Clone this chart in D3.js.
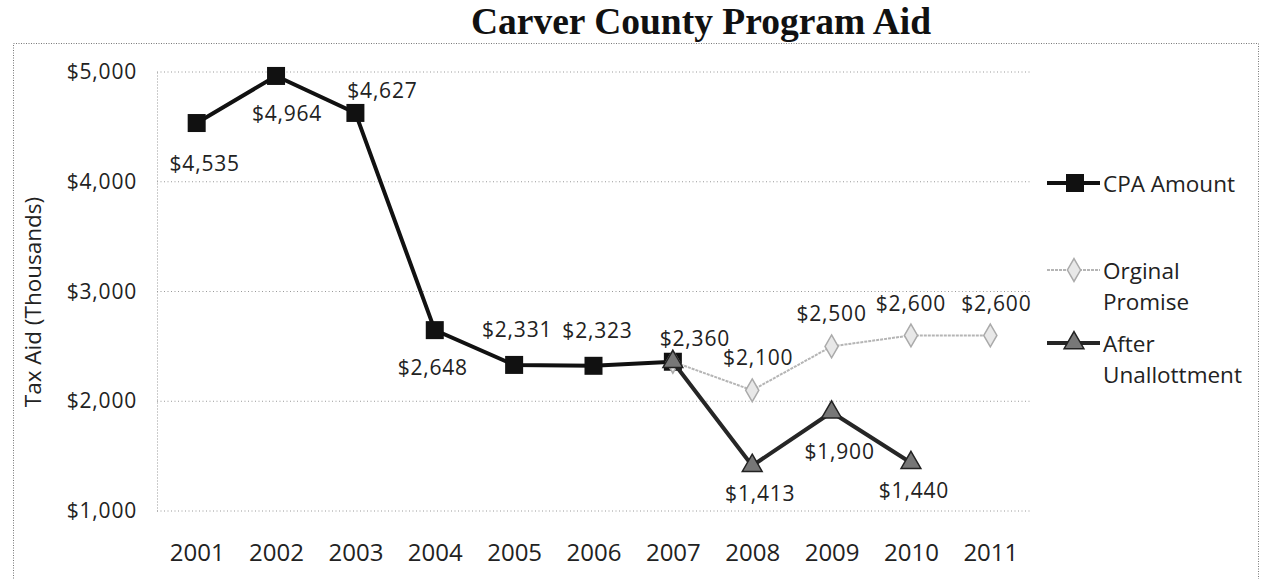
<!DOCTYPE html>
<html>
<head>
<meta charset="utf-8">
<script src="https://cdn.jsdelivr.net/npm/d3@7"></script>
<style>
  body { margin: 0; background: #fff; }
  svg text { font-family: "Open Sans", sans-serif; fill: #222; }
</style>
</head>
<body>
<script>
// data
const years = ["2001", "2002", "2003", "2004", "2005", "2006", "2007", "2008", "2009", "2010", "2011"];
const cpaYears = ["2001", "2002", "2003", "2004", "2005", "2006", "2007"];
const cpaValues = [4535, 4964, 4627, 2648, 2331, 2323, 2360];
const promiseYears = ["2007", "2008", "2009", "2010", "2011"];
const promiseValues = [2360, 2100, 2500, 2600, 2600];
const afterYears = ["2007", "2008", "2009", "2010"];
const afterValues = [2360, 1413, 1900, 1440];
const yTicks = [1000, 2000, 3000, 4000, 5000];

// where each value label sits relative to its point (null = no label)
const cpaLabelPos = [[8, 40], [11, 37], [27, -23], [-2, 37], [3, -36], [4, -36], [22, -24]];
const promiseLabelPos = [null, [6, -33], [0, -33], [0, -32], [6, -32]];
const afterLabelPos = [null, [8, 27], [8, 39], [3, 27]];

const w = 1266;
const h = 579;
const labelFont = "21px";

let svg = d3.select("body")
  .append("svg")
  .attr("width", w)
  .attr("height", h);

// frame
svg.append("rect")
  .attr("x", 13.5).attr("y", 43.5)
  .attr("width", 1245).attr("height", 545)
  .attr("fill", "none")
  .attr("stroke", "#777")
  .attr("stroke-dasharray", "1,1.5");

// title
svg.append("text")
  .attr("x", 701).attr("y", 34)
  .attr("text-anchor", "middle")
  .style("font-family", "'Liberation Serif', 'Times New Roman', serif")
  .style("font-weight", "bold")
  .style("font-size", "37.5px")
  .style("fill", "#111")
  .text("Carver County Program Aid");

let x = d3.scalePoint().domain(years).range([157, 1030]).padding(0.5);
let y = d3.scaleLinear().domain([1000, 5000]).range([511, 72]);

// gridlines + y labels
let yAxis = d3.axisLeft(y).tickValues(yTicks).tickSize(0).tickPadding(20)
  .tickFormat((d) => "$" + d3.format(",")(d));
svg.append("g")
  .attr("class", "y-axis")
  .attr("transform", "translate(157,0)")
  .call(yAxis);
svg.select(".y-axis .domain").attr("stroke", "#999").attr("stroke-dasharray", "1,2");
svg.selectAll(".y-axis text")
  .style("font-size", labelFont)
  .style("letter-spacing", "0.8px")
  .style("font-family", "'Open Sans', sans-serif")
  .attr("fill", "#222");

svg.append("g")
  .attr("class", "grid")
  .selectAll("line")
  .data(yTicks)
  .enter()
  .append("line")
  .attr("x1", 157).attr("x2", 1030)
  .attr("y1", (d) => y(d)).attr("y2", (d) => y(d))
  .attr("stroke", "#999")
  .attr("stroke-dasharray", "1,2.5");

// x labels
let xAxis = d3.axisBottom(x).tickSize(0).tickPadding(33);
svg.append("g")
  .attr("class", "x-axis")
  .attr("transform", "translate(0," + y(1000) + ")")
  .call(xAxis);
svg.select(".x-axis .domain").remove();
svg.selectAll(".x-axis text")
  .style("font-size", "24px")
  .style("font-family", "'Open Sans', sans-serif")
  .attr("fill", "#222");

// y axis title
svg.append("text")
  .attr("transform", "translate(41,302) rotate(-90)")
  .attr("text-anchor", "middle")
  .style("font-size", "22.5px")
  .text("Tax Aid (Thousands)");

let line = d3.line()
  .x((d) => x(d[0]))
  .y((d) => y(d[1]));

let cpa = cpaYears.map((d, i) => [d, cpaValues[i]]);
let promise = promiseYears.map((d, i) => [d, promiseValues[i]]);
let after = afterYears.map((d, i) => [d, afterValues[i]]);

let fmt = (v) => "$" + d3.format(",")(v);

// CPA amount
svg.append("path")
  .datum(cpa)
  .attr("d", line)
  .attr("fill", "none")
  .attr("stroke", "#111")
  .attr("stroke-width", 4);

svg.append("g")
  .selectAll("rect")
  .data(cpa)
  .enter()
  .append("rect")
  .attr("x", (d) => x(d[0]) - 9)
  .attr("y", (d) => y(d[1]) - 9)
  .attr("width", 18).attr("height", 18)
  .attr("fill", "#111");

// Orginal promise
svg.append("path")
  .datum(promise)
  .attr("d", line)
  .attr("fill", "none")
  .attr("stroke", "#b5b5b5")
  .attr("stroke-width", 2)
  .attr("stroke-dasharray", "3,1");

let diamond = d3.symbol().type(d3.symbolDiamond).size(150);
svg.append("g")
  .selectAll("path")
  .data(promise)
  .enter()
  .append("path")
  .attr("d", diamond)
  .attr("transform", (d) => "translate(" + x(d[0]) + "," + y(d[1]) + ")")
  .attr("fill", "#e8e8e8")
  .attr("stroke", "#aaa")
  .attr("stroke-width", 1.5);

// After unallotment
svg.append("path")
  .datum(after)
  .attr("d", line)
  .attr("fill", "none")
  .attr("stroke", "#262626")
  .attr("stroke-width", 4);

let tri = d3.symbol().type(d3.symbolTriangle).size(170);
svg.append("g")
  .selectAll("path")
  .data(after)
  .enter()
  .append("path")
  .attr("d", tri)
  .attr("transform", (d) => "translate(" + x(d[0]) + "," + y(d[1]) + ")")
  .attr("fill", "#777")
  .attr("stroke", "#222")
  .attr("stroke-width", 1.5);

// value labels
function labels(series, pos) {
  svg.append("g")
    .selectAll("text")
    .data(series.filter((d, i) => pos[i]))
    .enter()
    .append("text")
    .attr("x", (d) => x(d[0]) + pos[series.indexOf(d)][0])
    .attr("y", (d) => y(d[1]) + pos[series.indexOf(d)][1])
    .attr("text-anchor", "middle")
    .attr("dominant-baseline", "central")
    .style("font-size", labelFont)
    .style("letter-spacing", "0.8px")
    .text((d) => fmt(d[1]));
}
labels(cpa, cpaLabelPos);
labels(promise, promiseLabelPos);
labels(after, afterLabelPos);

// legend
let legend = svg.append("g").attr("class", "legend");
let lx1 = 1047, lx2 = 1100;

function legendText(yy, str) {
  legend.append("text")
    .attr("x", 1103).attr("y", yy)
    .attr("dominant-baseline", "central")
    .style("font-size", "22.5px")
    .text(str);
}

legend.append("line")
  .attr("x1", lx1).attr("x2", lx2).attr("y1", 183).attr("y2", 183)
  .attr("stroke", "#111").attr("stroke-width", 4);
legend.append("rect")
  .attr("x", 1066).attr("y", 174).attr("width", 18).attr("height", 18)
  .attr("fill", "#111");
legendText(183, "CPA Amount");

legend.append("line")
  .attr("x1", lx1).attr("x2", lx2).attr("y1", 270).attr("y2", 270)
  .attr("stroke", "#b5b5b5").attr("stroke-width", 2).attr("stroke-dasharray", "3,1");
legend.append("path")
  .attr("d", diamond)
  .attr("transform", "translate(1074,270)")
  .attr("fill", "#e8e8e8").attr("stroke", "#aaa").attr("stroke-width", 1.5);
legendText(270, "Orginal");
legendText(301, "Promise");

legend.append("line")
  .attr("x1", lx1).attr("x2", lx2).attr("y1", 343).attr("y2", 343)
  .attr("stroke", "#262626").attr("stroke-width", 4);
legend.append("path")
  .attr("d", tri)
  .attr("transform", "translate(1074,343)")
  .attr("fill", "#777").attr("stroke", "#222").attr("stroke-width", 1.5);
legendText(343, "After");
legendText(374, "Unallottment");
</script>
</body>
</html>
